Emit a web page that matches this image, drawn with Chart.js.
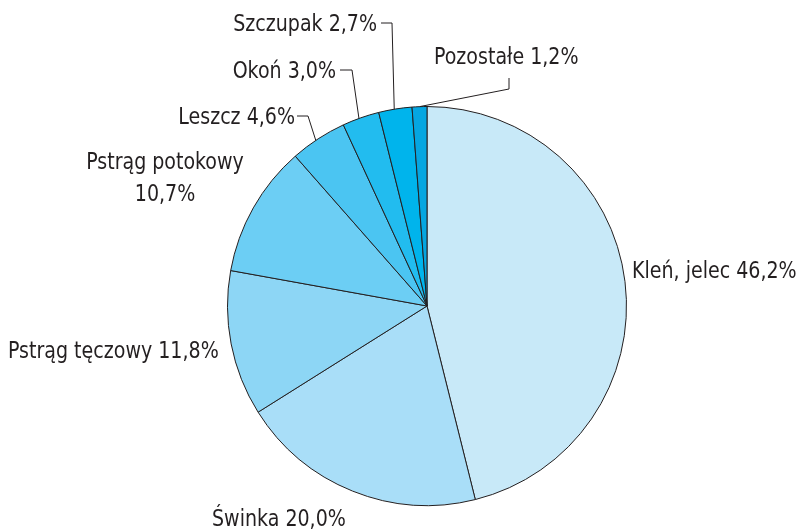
<!DOCTYPE html>
<html><head><meta charset="utf-8">
<script src="https://cdn.jsdelivr.net/npm/chart.js@4/dist/chart.umd.min.js"></script>
<style>html,body{margin:0;padding:0;background:#fff}#wrap{width:800px;height:531px}</style>
</head><body><div id="wrap"><canvas id="c" width="800" height="531"></canvas></div>
<script>
const categories = ["Kleń, jelec","Świnka","Pstrąg tęczowy","Pstrąg potokowy","Leszcz","Okoń","Szczupak","Pozostałe"];
const shares = [46.2, 20.0, 11.8, 10.7, 4.6, 3.0, 2.7, 1.2];
const shareLabels = ["46,2%","20,0%","11,8%","10,7%","4,6%","3,0%","2,7%","1,2%"];
const colors = ["#c8e9f8","#a9def8","#8dd6f5","#6ccef4","#4bc5f2","#22bcef","#00b4ec","#05a6e1"];

// label layout: text anchor, alignment, optional leader elbow
const labelLayout = [
  {x:632, y:272, align:'left', lines:1},
  {x:212, y:520, align:'left', lines:1},
  {x:8, y:352, align:'left', lines:1},
  {x:165, y:163, align:'center', lines:2},
  {x:295, y:118, align:'right', lines:1, elbow:[[297,116],[308,116]], edge:0.45},
  {x:336, y:72, align:'right', lines:1, elbow:[[340,70],[352,70]], edge:0.45},
  {x:377, y:25, align:'right', lines:1, elbow:[[381,23],[392,23]], edge:0.47},
  {x:434, y:58, align:'left', lines:1, elbow:[[509,78],[509,89]], edge:0.5}
];

const SX = 0.92;
function txt(ctx, s, x, y){
  ctx.save();
  ctx.translate(x, y);
  ctx.scale(SX, 1);
  ctx.fillText(s, 0, 0);
  ctx.restore();
}

const labelPlugin = {
  id:'labels',
  afterDatasetsDraw(chart){
    const ctx = chart.ctx;
    const meta = chart.getDatasetMeta(0);
    ctx.save();
    ctx.font = '23px "Liberation Sans Narrow","Arial Narrow","DejaVu Sans Condensed",sans-serif';
    ctx.fillStyle = '#231f20';
    ctx.textBaseline = 'middle';
    meta.data.forEach((arc,i)=>{
      const L = labelLayout[i];
      ctx.textAlign = L.align;
      if(L.lines===2){
        txt(ctx, categories[i], L.x, L.y);
        txt(ctx, shareLabels[i], L.x, L.y+32);
      } else {
        txt(ctx, categories[i]+' '+shareLabels[i], L.x, L.y);
      }
      if(L.elbow){
        const p = arc.getProps(['x','y','startAngle','endAngle','outerRadius'], true);
        const a = p.startAngle + (p.endAngle-p.startAngle)*L.edge;
        const ex = p.x + Math.cos(a)*p.outerRadius;
        const ey = p.y + Math.sin(a)*p.outerRadius;
        ctx.strokeStyle = '#231f20';
        ctx.lineWidth = 1;
        ctx.beginPath();
        ctx.moveTo(L.elbow[0][0], L.elbow[0][1]);
        ctx.lineTo(L.elbow[1][0], L.elbow[1][1]);
        ctx.lineTo(ex, ey);
        ctx.stroke();
      }
    });
    ctx.restore();
  }
};

new Chart(document.getElementById('c'), {
  type:'pie',
  data:{labels:categories, datasets:[{data:shares, backgroundColor:colors, borderColor:'#231f20', borderWidth:1}]},
  options:{
    responsive:false, animation:false,
    layout:{padding:{left:227, right:173, top:106, bottom:25}},
    plugins:{legend:{display:false}, tooltip:{enabled:false}}
  },
  plugins:[labelPlugin]
});
</script>
</body></html>
